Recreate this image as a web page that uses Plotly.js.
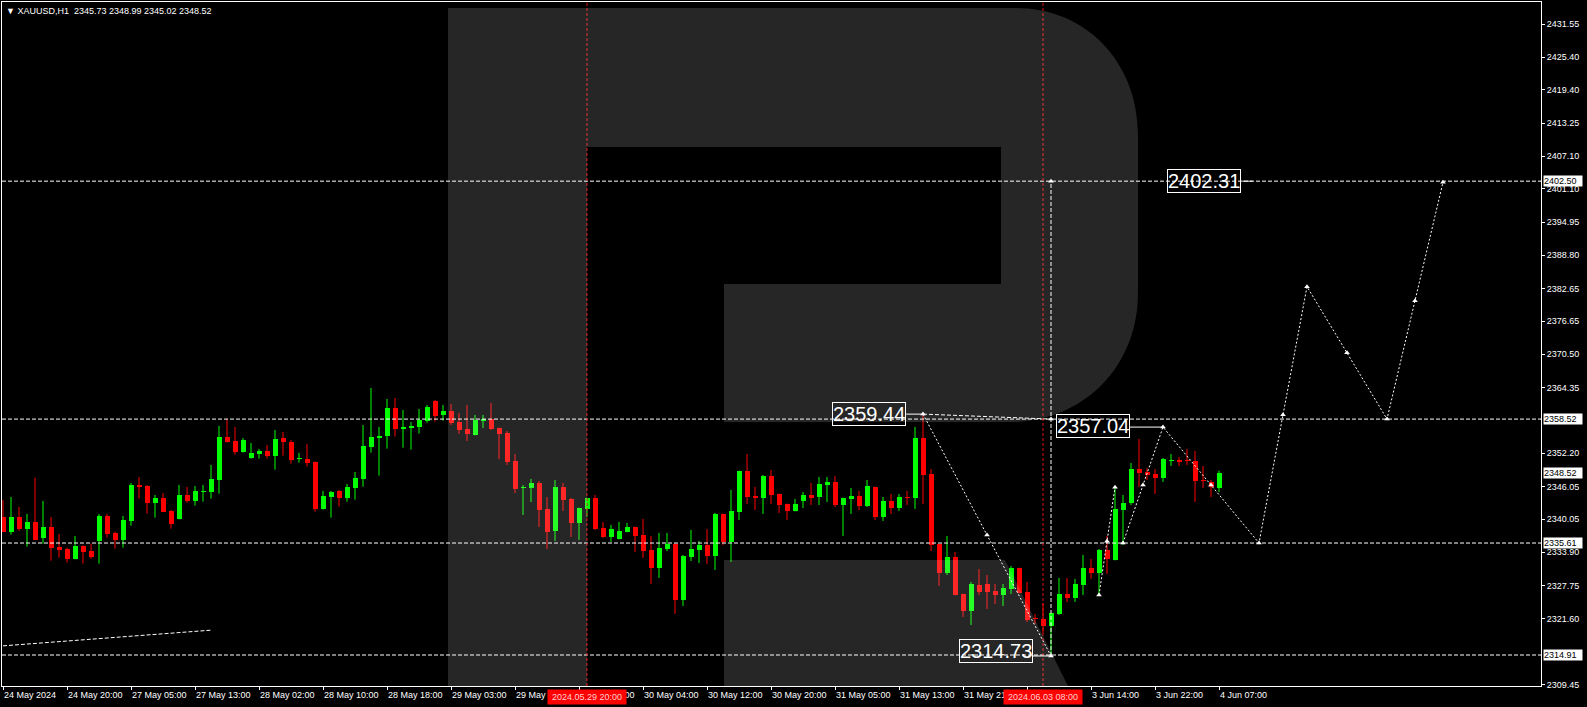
<!DOCTYPE html>
<html><head><meta charset="utf-8">
<script src="https://cdn.plot.ly/plotly-3.0.1.min.js"></script>
<style>html,body{margin:0;padding:0;background:#000;}#chart{width:1587px;height:707px;}</style>
</head><body><div id="chart"></div>
<script>
// ---------- data ----------
const symbolTitle = "▼ XAUUSD,H1  2345.73 2348.99 2345.02 2348.52";
const O = [
2340.49,2337.72,2340.49,2338.27,2339.50,2336.61,2338.58,2334.88,2334.51,2332.72,
2335.13,2334.14,2336.05,2340.61,2337.47,2336.24,2339.75,2346.34,2346.16,2343.08,
2343.94,2341.54,2340.12,2344.49,2343.45,2345.11,2345.11,2347.33,2355.21,2354.47,
2352.50,2351.39,2352.13,2352.63,2351.76,2355.03,2354.29,2351.10,2351.15,2350.59,
2341.97,2344.18,2345.23,2344.00,2345.85,2347.51,2353.43,2355.09,2355.46,2360.57,
2356.75,2356.94,2357.12,2358.23,2361.87,2359.28,2360.02,2357.99,2356.69,2355.58,
2358.23,2358.54,2356.88,2355.95,2350.78,2345.75,2345.79,2346.71,2341.91,2337.84,
2345.97,2343.75,2339.32,2341.91,2343.94,2338.39,2336.73,2336.36,2337.65,2338.58,
2337.10,2334.33,2331.00,2334.51,2335.44,2325.08,2333.03,2334.33,2335.25,2333.22,
2340.98,2335.81,2341.35,2348.93,2344.31,2343.94,2348.01,2344.68,2342.83,2341.54,
2343.38,2344.49,2344.12,2346.34,2346.90,2342.64,2343.75,2344.31,2342.46,2345.97,
2340.43,2343.38,2342.09,2344.12,2343.94,2355.03,2348.37,2335.44,2330.08,2333.03,
2326.19,2323.05,2327.86,2328.04,2326.75,2326.01,2327.12,2331.00,2326.56,2321.57,
2321.57,2320.28,2322.50,2326.19,2325.45,2327.86,2331.00,2330.08,2334.33,2332.48,
2341.72,2343.01,2349.30,2348.74,2348.37,2347.64,2350.80,2351.02,2350.90,2350.78,
2347.33,2346.90,2345.73];
const H = [
2343.57,2344.12,2342.27,2340.98,2347.70,2343.38,2340.43,2337.28,2334.76,2336.91,
2335.20,2335.50,2340.98,2340.98,2337.72,2340.61,2346.71,2347.82,2346.34,2344.49,
2344.86,2341.72,2346.34,2345.97,2346.16,2346.34,2350.04,2357.25,2358.60,2357.06,
2355.03,2354.10,2353.00,2353.74,2356.51,2356.14,2354.66,2352.26,2353.92,2350.70,
2345.23,2345.23,2345.42,2346.53,2348.74,2357.43,2364.27,2357.06,2362.24,2362.42,
2360.20,2357.99,2360.39,2361.13,2362.05,2361.13,2361.31,2359.65,2361.13,2359.28,
2359.28,2361.50,2356.95,2356.32,2352.07,2346.34,2347.45,2347.08,2344.12,2347.27,
2346.71,2343.94,2342.15,2344.00,2344.49,2339.50,2338.95,2339.50,2339.32,2338.65,
2340.06,2336.91,2337.47,2337.47,2335.60,2333.40,2338.02,2335.99,2338.21,2341.17,
2341.05,2345.42,2349.00,2352.07,2345.97,2348.19,2349.11,2344.75,2342.90,2343.75,
2345.05,2346.71,2347.82,2347.82,2348.01,2344.00,2345.79,2345.23,2347.27,2346.05,
2344.12,2344.68,2344.68,2345.23,2357.06,2359.44,2349.30,2335.50,2336.91,2333.96,
2326.25,2328.41,2330.81,2329.71,2328.04,2328.04,2331.37,2331.05,2328.41,2322.50,
2324.53,2322.65,2329.15,2329.15,2328.97,2333.40,2332.66,2334.51,2336.91,2346.16,
2344.49,2350.40,2354.84,2349.48,2349.30,2351.33,2352.07,2351.52,2353.00,2352.63,
2349.85,2347.27,2348.99];
const L = [
2337.60,2337.16,2337.90,2334.94,2336.20,2335.50,2332.35,2332.91,2331.99,2332.60,
2331.80,2332.72,2331.80,2336.61,2334.57,2334.76,2338.82,2343.82,2341.04,2340.30,
2341.35,2338.27,2340.00,2343.08,2342.52,2343.26,2343.82,2344.74,2354.17,2351.95,
2352.32,2351.21,2351.21,2351.21,2349.18,2351.76,2350.28,2350.47,2349.73,2341.41,
2341.78,2340.30,2342.34,2343.26,2343.63,2346.03,2352.32,2348.07,2353.06,2355.28,
2353.24,2352.87,2355.83,2357.86,2358.05,2358.23,2357.43,2355.77,2354.47,2355.50,
2356.88,2356.51,2351.15,2350.04,2344.86,2340.80,2343.20,2338.58,2334.51,2335.99,
2341.54,2336.73,2336.18,2340.43,2338.02,2336.54,2335.81,2336.30,2337.60,2333.96,
2332.85,2328.04,2329.15,2334.14,2322.50,2323.98,2332.29,2331.92,2331.74,2330.63,
2335.25,2332.11,2339.87,2342.83,2341.72,2340.98,2342.83,2341.17,2339.87,2341.45,
2342.09,2342.64,2342.64,2343.20,2342.27,2336.91,2340.98,2341.72,2342.27,2339.87,
2339.69,2340.98,2341.54,2342.64,2341.91,2342.83,2334.14,2327.67,2329.71,2325.95,
2321.94,2320.46,2326.01,2323.42,2324.35,2323.98,2326.19,2326.30,2321.02,2320.65,
2318.92,2314.73,2322.31,2324.71,2324.71,2326.01,2328.97,2326.01,2329.89,2332.40,
2335.25,2342.64,2345.97,2347.27,2344.68,2346.90,2349.85,2349.85,2350.04,2343.20,
2345.79,2344.12,2345.02];
const C = [
2337.72,2340.49,2338.27,2339.50,2336.24,2338.58,2334.76,2334.39,2332.72,2335.13,
2334.02,2333.09,2340.61,2337.35,2336.24,2339.87,2346.34,2346.03,2343.08,2343.94,
2341.41,2339.19,2344.49,2343.45,2345.23,2345.23,2347.45,2355.21,2354.29,2352.50,
2354.66,2352.26,2352.63,2351.76,2354.84,2354.35,2351.02,2351.15,2350.47,2341.97,
2344.31,2345.05,2344.00,2345.97,2347.64,2353.55,2355.21,2355.46,2360.57,2356.75,
2357.06,2357.25,2358.36,2360.76,2359.10,2360.02,2357.74,2356.51,2355.77,2358.36,
2358.54,2356.69,2355.77,2350.59,2345.60,2345.85,2346.71,2341.72,2337.65,2345.97,
2343.57,2339.32,2342.09,2343.94,2338.21,2336.73,2338.21,2337.84,2338.58,2336.91,
2334.14,2331.00,2334.70,2335.44,2325.08,2333.22,2334.51,2335.25,2333.22,2340.98,
2335.81,2341.54,2348.93,2344.12,2343.94,2348.01,2344.49,2342.64,2341.54,2342.83,
2344.49,2343.94,2346.53,2346.90,2342.64,2343.94,2344.31,2342.46,2346.16,2340.43,
2343.38,2342.09,2344.12,2344.00,2355.03,2348.19,2335.25,2330.08,2333.03,2326.01,
2323.05,2328.04,2326.56,2326.56,2326.01,2327.30,2331.00,2326.38,2321.39,2321.51,
2320.28,2322.62,2326.19,2325.45,2328.04,2331.00,2330.08,2334.33,2332.66,2341.91,
2343.01,2349.30,2348.55,2348.19,2347.64,2351.15,2350.90,2350.65,2350.80,2347.08,
2347.08,2345.97,2348.52];

// time axis: one label every 8 bars
const timeTickBars = [0,8,16,24,32,40,48,56,64,72,80,88,96,104,112,120,128,136,144,152];
const timeTickText = ["24 May 2024","24 May 20:00","27 May 05:00","27 May 13:00","28 May 02:00",
  "28 May 10:00","28 May 18:00","29 May 03:00","29 May 11:00","29 May 19:00","30 May 04:00",
  "30 May 12:00","30 May 20:00","31 May 05:00","31 May 13:00","31 May 21:00","3 Jun 06:00",
  "3 Jun 14:00","3 Jun 22:00","4 Jun 07:00"];
// price axis
const priceTickVals = [2431.55,2425.40,2419.40,2413.25,2407.10,2401.10,2394.95,2388.80,2382.65,
  2376.65,2370.50,2364.35,2352.20,2346.05,2340.05,2333.90,2327.75,2321.60,2309.45];
const priceTickText = ["2431.55","2425.40","2419.40","2413.25","2407.10","2401.10","2394.95","2388.80","2382.65",
  "2376.65","2370.50","2364.35","2352.20","2346.05","2340.05","2333.90","2327.75","2321.60","2309.45"];
// horizontal levels and boxed price marks
const levels = [2402.50, 2358.52, 2335.61, 2314.91];
const boxedPrices = [2402.50, 2358.52, 2348.52, 2335.61, 2314.91];
// red vertical time lines
const vlineBars = [73, 130];
const vlineText = ["2024.05.29 20:00", "2024.06.03 08:00"];
// forecast drawing
const fcMainX = [140,145,157,163,173,180];
const fcMainY = [2335.61,2357.04,2335.61,2383.00,2358.52,2402.31];
const fcDownX = [115,131], fcDownY = [2359.44,2314.73];
const fcShortX = [137,139], fcShortY = [2326.00,2345.90];
const fcVertX = [131,131], fcVertY = [2314.73,2402.50];
const fcFlatX = [115,131], fcFlatY = [2359.44,2358.52];
const trendX = [0,26], trendY = [2316.60,2319.50];
const bigLabels = [
  {text:"2359.44", x:112.9, y:2359.55, side:"right", to:115, toY:2359.44},
  {text:"2314.73", x:128.75, y:2315.56, side:"right", to:131, toY:2314.73},
  {text:"2357.04", x:131.6, y:2357.24, side:"left", from:140.75, to:145, toY:2357.04},
  {text:"2402.31", x:145.5, y:2402.53, side:"left", from:154.9, to:156.2, toY:2402.50}
];

// ---------- build ----------
const FONT = "Liberation Sans, Arial, sans-serif";
const GREEN = "#00ff00", RED = "#ff0000";
const MINB = 0.2;
const up = {x:[],base:[],h:[]}, dn = {x:[],base:[],h:[]};
const wU = {x:[],y:[]}, wD = {x:[],y:[]};
for (let i=0;i<O.length;i++){
  const isUp = C[i] >= O[i];
  const lo = Math.min(O[i],C[i]), hi = Math.max(O[i],C[i]);
  const t = isUp ? up : dn, w = isUp ? wU : wD;
  t.x.push(i); t.base.push(lo); t.h.push(Math.max(hi-lo, MINB));
  w.x.push(i,i,null); w.y.push(L[i],H[i],null);
}
const traces = [
  {type:"scatter",mode:"lines",x:wU.x,y:wU.y,line:{color:GREEN,width:1},hoverinfo:"skip",showlegend:false},
  {type:"scatter",mode:"lines",x:wD.x,y:wD.y,line:{color:RED,width:1},hoverinfo:"skip",showlegend:false},
  {type:"bar",x:up.x,base:up.base,y:up.h,width:0.625,marker:{color:GREEN,line:{width:0}},hoverinfo:"skip",showlegend:false},
  {type:"bar",x:dn.x,base:dn.base,y:dn.h,width:0.625,marker:{color:RED,line:{width:0}},hoverinfo:"skip",showlegend:false}
];
const dotted = {color:"#ffffff",width:1,dash:"2px,2px"};
const dashed = {color:"#ffffff",width:1,dash:"4px,2px"};
traces.push({type:"scatter",mode:"lines",x:trendX,y:trendY,line:dashed,hoverinfo:"skip",showlegend:false});
traces.push({type:"scatter",mode:"lines",x:fcFlatX,y:fcFlatY,line:dashed,hoverinfo:"skip",showlegend:false});
traces.push({type:"scatter",mode:"lines",x:fcVertX,y:fcVertY,line:dashed,hoverinfo:"skip",showlegend:false});
traces.push({type:"scatter",mode:"lines",x:fcDownX,y:fcDownY,line:dotted,hoverinfo:"skip",showlegend:false});
traces.push({type:"scatter",mode:"lines",x:fcShortX,y:fcShortY,line:dotted,hoverinfo:"skip",showlegend:false});
traces.push({type:"scatter",mode:"lines",x:fcMainX,y:fcMainY,line:dotted,hoverinfo:"skip",showlegend:false});
// arrow markers: segment midpoints and pivots
const mk = {x:[],y:[]};
function addMid(xs,ys){ for(let i=0;i<xs.length-1;i++){ mk.x.push((xs[i]+xs[i+1])/2); mk.y.push((ys[i]+ys[i+1])/2);} }
addMid(fcMainX,fcMainY); addMid(fcDownX,fcDownY); addMid(fcShortX,fcShortY);
fcMainX.forEach((v,i)=>{mk.x.push(v); mk.y.push(fcMainY[i]);});
mk.x.push(fcDownX[0],fcDownX[1],fcShortX[0],fcShortX[1],fcVertX[1],fcFlatX[1]);
mk.y.push(fcDownY[0],fcDownY[1],fcShortY[0],fcShortY[1],fcVertY[1],fcFlatY[1]);
traces.push({type:"scatter",mode:"markers",x:mk.x,y:mk.y,marker:{symbol:"triangle-up",size:5,color:"#ffffff"},hoverinfo:"skip",showlegend:false});

// pixel helpers for the watermark (plot area 2..1541 x 2..686)
const PL=2, PT=2, PW=1539, PH=684;
const px = v => ((v-PL)/PW).toFixed(5);
const py = v => ((PT+PH-v)/PH).toFixed(5);
const pt = (x,y) => px(x)+","+py(y);
const logoPath = "M"+pt(448,8)+" L"+pt(1016,8)+" C"+pt(1086,8)+" "+pt(1138,62)+" "+pt(1138,135)+
  " L"+pt(1138,293)+" C"+pt(1138,366)+" "+pt(1084,422)+" "+pt(1010,422)+
  " L"+pt(724,422)+" L"+pt(724,284)+" L"+pt(1001,284)+" L"+pt(1001,147)+" L"+pt(587,147)+
  " L"+pt(587,686)+" L"+pt(448,686)+" Z";
const legPath = "M"+pt(724,560)+" L"+pt(1005,560)+" L"+pt(1068,686)+" L"+pt(724,686)+" Z";

const shapes = [];
levels.forEach(v=>shapes.push({type:"line",xref:"paper",yref:"y",x0:0,x1:1,y0:v,y1:v,layer:"above",line:{color:"#ffffff",width:1,dash:"4px,2px"}}));
vlineBars.forEach(b=>shapes.push({type:"line",xref:"x",yref:"paper",x0:b,x1:b,y0:0,y1:1,layer:"above",line:{color:"#e01010",width:1,dash:"3px,2px"}}));
bigLabels.forEach(l=>{
  const x0 = l.side==="right" ? l.x : l.from;
  if (x0!==undefined) shapes.push({type:"line",xref:"x",yref:"y",x0:x0,x1:l.to,y0:l.toY,y1:l.toY,layer:"above",line:{color:"#ffffff",width:1}});
});
shapes.push({type:"path",xref:"paper",yref:"paper",path:logoPath,fillcolor:"rgba(255,255,255,0.15)",line:{width:0},layer:"above"});
shapes.push({type:"path",xref:"paper",yref:"paper",path:legPath,fillcolor:"rgba(255,255,255,0.15)",line:{width:0},layer:"above"});

const annotations = [];
annotations.push({xref:"paper",yref:"paper",x:px(4)*1,y:py(11)*1,xanchor:"left",yanchor:"middle",showarrow:false,
  text:symbolTitle,font:{family:FONT,size:9,color:"#ffffff"}});
boxedPrices.forEach(v=>annotations.push({xref:"paper",yref:"y",x:1,xshift:2,y:v,xanchor:"left",yanchor:"middle",showarrow:false,
  text:v.toFixed(2),bgcolor:"#ffffff",font:{family:FONT,size:9,color:"#000000"},borderpad:0,width:38,height:10,align:"left"}));
vlineBars.forEach((b,i)=>annotations.push({xref:"x",yref:"paper",x:b,y:py(697)*1,xanchor:"center",yanchor:"middle",showarrow:false,
  text:vlineText[i],bgcolor:"#ff0000",font:{family:FONT,size:9,color:"#ffd0d0"},borderpad:1,width:76,height:12}));
bigLabels.forEach(l=>annotations.push({xref:"x",yref:"y",x:l.x,y:l.y,xanchor:l.side,yanchor:"middle",showarrow:false,
  text:l.text,font:{family:FONT,size:20,color:"#ffffff"},bordercolor:"#ffffff",borderwidth:1,borderpad:0,bgcolor:"rgba(0,0,0,0)"}));

const layout = {
  width:1587,height:707,autosize:false,
  margin:{l:2,r:46,t:2,b:21,pad:0},
  paper_bgcolor:"#000000",plot_bgcolor:"#000000",
  barmode:"overlay",bargap:0,showlegend:false,
  font:{family:FONT,size:9,color:"#ffffff"},
  xaxis:{range:[-0.125,192.25],showgrid:false,zeroline:false,showline:true,mirror:true,linecolor:"#ffffff",linewidth:1,
    ticks:"outside",ticklen:3,tickcolor:"#ffffff",tickvals:timeTickBars,ticktext:timeTickText,tickangle:0,
    ticklabelposition:"outside right",tickfont:{family:FONT,size:9,color:"#ffffff"},fixedrange:true},
  yaxis:{range:[2309.18,2435.62],side:"right",showgrid:false,zeroline:false,showline:true,mirror:true,linecolor:"#ffffff",linewidth:1,
    ticks:"outside",ticklen:3,tickcolor:"#ffffff",tickvals:priceTickVals,ticktext:priceTickText,
    tickfont:{family:FONT,size:9,color:"#ffffff"},fixedrange:true},
  shapes:shapes,annotations:annotations
};
Plotly.newPlot("chart",traces,layout,{staticPlot:true,displayModeBar:false});
</script></body></html>
